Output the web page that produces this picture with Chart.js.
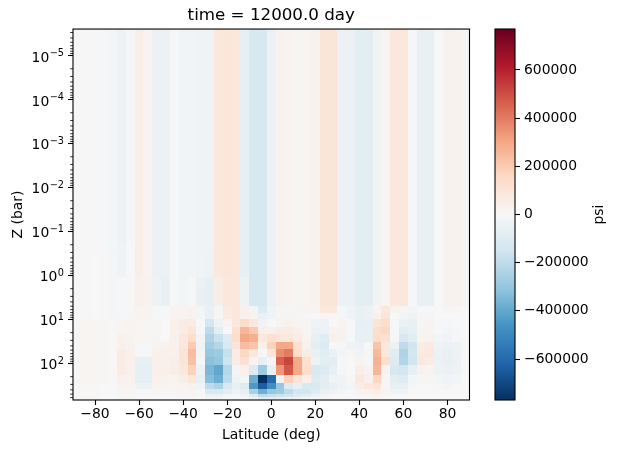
<!DOCTYPE html>
<html>
<head>
<meta charset="utf-8">
<script src="https://cdn.jsdelivr.net/npm/chart.js@4.4.0/dist/chart.umd.min.js"></script>
<style>
  html, body { margin: 0; padding: 0; background: #fff; }
  #wrap { position: relative; width: 617px; height: 453px; overflow: hidden; }
  #main { position: absolute; left: 0; top: 0; }
  #cbar { position: absolute; left: 470px; top: 0; }
</style>
</head>
<body>
<div id="wrap">
  <canvas id="main" width="617" height="453"></canvas>
  <canvas id="cbar" width="147" height="453"></canvas>
</div>
<script>
// cell centres (deg) and level edges (bar)
const latitudes = [-88,-84,-80,-76,-72,-68,-64,-60,-56,-52,-48,-44,-40,-36,-32,-28,-24,-20,-16,-12,-8,-4,0,4,8,12,16,20,24,28,32,36,40,44,48,52,56,60,64,68,72,76,80,84,88];
const pressureEdges = [2.5e-6, 0.18, 0.34, 0.61, 1.06, 1.95, 3.13, 4.93, 7.0, 9.9, 14.6, 21.4, 32, 47.5, 70, 108, 182, 282, 386, 493, 587, 680];

// psi in units of 1e4, one row per level band (top -> bottom)
const psiTop = [0.3,0.3,-0.8,-0.8,-2,-4,-1.5,5,2,-5,-5,-1,-2.5,-2.5,-3,-3,9,9.5,9,-7,-13,-13,-5,2.5,2,1,1.5,2.5,10,10,-5,-5,-8,-8,-3,1.5,9,9,-1,-6,-6,0,3,3,1];
const psiR2 = [0.3,0.3,-0.5,-0.8,-2,-3,-1,5,2,-5,-5,-1,-2.5,-2.5,-3,-3,9,9.5,9,-7,-13,-13,-5,2.5,2,1,1.5,2.5,10,10,-5,-5,-8,-8,-3,1.5,9,9,-1,-6,-6,0,3,3,1];
const psiR3 = [0.3,0.3,0,-0.5,-1.5,-3,-1,5,2,-5,-5,-1,-2.5,-2.5,-3,-4,9,9.5,9,-7,-13,-13,-5,2.5,2,1,1.5,2.5,10,10,-5,-5,-8,-8,-3,1.5,9,9,-1,-6,-6,0,3,3,1];
const psiR4 = [0.3,0.3,0,-0.5,-1.5,-3,-1,5,2,-5,-5,-1,-2.5,-2.5,-3,-4,9,9.5,9,-7,-13,-13,-5,2.5,2,1,1.5,2.5,10,10,-5,-5,-8,-8,-3,1.5,9,9,-1,-6,-6,0,3,3,1];
const psiR5 = [0.3,0.3,0,-0.5,-1.5,-1,0.5,4,3,-4,-6,-1,-2,-1,-5,-7,5,9,9,-4,-13,-13,-5,2.5,2,1,1.5,2.5,10,10,-5,-5,-8,-8,-3,1.5,9,9,-1,-6,-6,0,3,3,1];
const psiR6 = [0.3,0.3,0,-0.5,-1.5,-1,0.5,4,3,-4,-6,-1,-2,-1,-6,-7,5,9,9,-4,-13,-13,-5,2.5,2,1,1.5,2.5,10,10,-5,-5,-8,-8,-3,1.5,9,9,-1,-6,-6,0,3,3,1];
const psiR7 = [0.3,0.3,0,-0.5,-1.5,-1,0.5,4,3,-4,-6,-1,-2,-1,-6,-7,5,9,9,-4,-13,-13,-5,2.5,2,1,1.5,2.5,10,10,-5,-5,-8,-8,-3,1.5,9,9,-1,-6,-6,0,3,3,1];
const psiR8 = [0.3,0.3,0,-0.5,-1.5,-1,0.5,2,2,-1,-1,2,2,3,-2,-6,1,7,9,4,-2,-11,-3,1,1,1,2,2,9,9,-1,-3,-6,-5,2,8,3,1,-2,-1,-1,0,1,1,0];
const psiR9 = [0.3,0.3,0,-0.5,-1.5,-1,0.5,2,2,-1,-1,2,2,3,-2,-6,1,7,9,4,3,-6,-3,1,1,1,-1,0,1,1,-1,-3,-6,-5,4,10,0,-2,-3,1,1,0,0,0,0];
const psiR10 = [1,1.5,1.5,1,0.5,1.5,2,1.5,1,1,0,4,6,6,0,-14,-4,2,8,15,8,-3,0,2,3,2,1,-3,-4,0,2,-1,-7,-6,10,14,-1,-5,-6,1,2,-1,-1,0,0];
const psiR11 = [1,1.5,1.5,1,0.5,1.5,2,1.5,1,1,0,4,6,10,-1,-20,-8,0,12,26,20,4,4,6,6,4,1,-5,-5,3,3,-1,-6,-6,14,16,-1,-9,-7,1,2,-1,-2,-1,0];
const psiR12 = [1,1.5,1.5,1,0.5,4,3,1.5,1,1,0,4,9,14,-2,-24,-17,-10,14,30,28,8,12,10,8,6,2,-6,-9,4,3,-1,-6,-6,14,12,-1,-13,-8,2,3,-2,-3,-1,0];
const psiR13 = [1,1.5,1.5,1,0.5,4,3,-1,-1,2,3,4,9,20,-3,-27,-22,-12,10,24,22,4,18,30,30,12,3,-8,-11,0,-1,-4,-5,-1,22,9,-5,-20,-15,6,7,-3,-5,-4,-1];
const psiR14 = [1,1.5,1.5,1,0.5,6,4,-1,-1,4,4,4,10,24,-2,-30,-28,-18,6,16,8,-1,10,36,40,14,6,-6,-9,-5,-2,1,-3,1,25,8,-9,-24,-14,7,8,-5,-6,-4,-1];
const psiR15 = [1,1.5,1.5,1,0.5,6,4,-6,-6,4,4,5,10,23,-1,-32,-30,-16,6,12,2,-6,-2,46,52,30,12,-4,-8,-8,-1,0,2,-1,27,14,-10,-23,-15,8,6,-5,-6,-5,-1];
const psiR16 = [1,1.5,1.5,1,0.5,6,4,-7,-7,4,4,5,8,18,-4,-35,-40,-22,-2,4,-10,-28,-6,34,48,30,14,-12,-10,-6,-1,0,5,3,26,2,-13,-14,-7,3,2,-4,-5,-4,-1];
const psiR17 = [1,1.5,1.5,1,0.5,4,3,-7,-7,4,3,3,5,8,-6,-33,-38,-20,-4,-2,-38,-77,-60,-4,18,10,4,-10,-8,-3,-3,-1,8,4,16,1,-8,-10,-2,1,1,-2,-3,-2,0];
const psiR18 = [0.5,0.5,0.5,0,0,2,2,-4,-4,2,2,1,2,3,-3,-20,-24,-12,-6,-10,-44,-64,-48,-30,-10,-6,-12,-12,-8,-6,-4,-2,5,9,10,1,-6,-6,-1,0,0,-1,-2,-1,0];
const psiR19 = [0.5,0.5,0.5,0,0,1,1,-1,-1,1,0.5,1,1.5,2,-1,-12,-12,-8,-4,-6,-25,-38,-30,-28,-20,-14,-14,-10,-6,-4,-2,-1,2,4,5,2,-3,-3,0,0,0,0,0,0,0];
const psiR20 = [0.5,0.5,0.5,0,0,0.5,0.5,0,0,0.5,0,0.5,1,1,-1,-4,-4,-2,-1,-3,-10,-20,-18,-16,-14,-10,-8,-4,-2,-1,0,0,1,1,2,1,-1,-1,0,0,0,0,0,0,0];
const psiR21 = [0.5,0.5,0.5,0,0,0.5,0.5,0,0,0,0,0,0,0,0,-2,-2,-1,0,-1,-3,-8,-8,-6,-4,-3,-2,-1,-0.5,0,0,0,0,0,0.5,0,0,0,0,0,0,0,0,0,0];
const psiUnit = 1e4;

const xTicks = [-80, -60, -40, -20, 0, 20, 40, 60, 80];
const yTicks = [1e-5, 1e-4, 1e-3, 1e-2, 1e-1, 1e0, 1e1, 1e2];
const cbarTicks = [-600000, -400000, -200000, 0, 200000, 400000, 600000];
const vLimit = 770000;

const psiRows = [psiTop, psiR2, psiR3, psiR4, psiR5, psiR6, psiR7, psiR8, psiR9, psiR10, psiR11,
  psiR12, psiR13, psiR14, psiR15, psiR16, psiR17, psiR18, psiR19, psiR20, psiR21];

// RdBu_r
const rdbu = ['#053061','#2166ac','#4393c3','#92c5de','#d1e5f0','#f7f7f7','#fddbc7','#f4a582','#d6604d','#b2182b','#67001f'];
const rdbuRgb = rdbu.map(h => [1, 3, 5].map(i => parseInt(h.substr(i, 2), 16)));

function psiColor(v) {
  let t = (v + vLimit) / (2 * vLimit);
  t = Math.min(1, Math.max(0, t)) * (rdbuRgb.length - 1);
  const i = Math.min(rdbuRgb.length - 2, Math.floor(t));
  const f = t - i;
  const c = rdbuRgb[i].map((a, k) => Math.round(a + (rdbuRgb[i + 1][k] - a) * f));
  return `rgb(${c[0]},${c[1]},${c[2]})`;
}

const numLabel = v => (v < 0 ? '\u2212' : '') + Math.abs(v);

Chart.defaults.font.family = 'DejaVu Sans';
Chart.defaults.color = '#000';

const latEdges = latitudes.map((c, j) => {
  const prev = j > 0 ? latitudes[j - 1] : c - (latitudes[1] - latitudes[0]);
  return (prev + c) / 2;
});
latEdges.push(latitudes[latitudes.length - 1] + (latitudes[1] - latitudes[0]) / 2);

const meshPlugin = {
  id: 'mesh',
  beforeDatasetsDraw(chart) {
    const { ctx, chartArea: a, scales: { x, y } } = chart;
    ctx.save();
    ctx.beginPath();
    ctx.rect(a.left, a.top, a.right - a.left, a.bottom - a.top);
    ctx.clip();
    psiRows.forEach((row, i) => {
      const y0 = Math.round(y.getPixelForValue(pressureEdges[i]));
      const y1 = Math.round(y.getPixelForValue(pressureEdges[i + 1]));
      row.forEach((v, j) => {
        const x0 = Math.round(x.getPixelForValue(latEdges[j]));
        const x1 = Math.round(x.getPixelForValue(latEdges[j + 1]));
        ctx.fillStyle = psiColor(v * psiUnit);
        ctx.fillRect(x0, y0, x1 - x0, y1 - y0);
      });
    });
    ctx.restore();
  },
  afterDraw(chart) {
    const { ctx, chartArea: a, scales: { y } } = chart;
    ctx.save();
    ctx.strokeStyle = '#000';
    // minor log ticks
    ctx.lineWidth = 0.8;
    for (let d = -6; d <= 2; d++) {
      for (let k = 2; k <= 9; k++) {
        const v = k * Math.pow(10, d);
        if (v < y.min || v > y.max) continue;
        const py = y.getPixelForValue(v);
        ctx.beginPath();
        ctx.moveTo(a.left - 2.8, py);
        ctx.lineTo(a.left, py);
        ctx.stroke();
      }
    }
    ctx.lineWidth = 1.1;
    ctx.strokeRect(a.left, a.top, a.right - a.left, a.bottom - a.top);

    // power-of-ten labels with a raised exponent
    ctx.fillStyle = '#000';
    ctx.textBaseline = 'alphabetic';
    ctx.textAlign = 'left';
    const right = a.left - 5 - 4;
    y.ticks.forEach(t => {
      const py = y.getPixelForValue(t.value);
      const exp = numLabel(Math.round(Math.log10(t.value)));
      ctx.font = '13.9px "DejaVu Sans"';
      const wBase = ctx.measureText('10').width;
      ctx.font = '9.7px "DejaVu Sans"';
      const wExp = ctx.measureText(exp).width;
      const x0 = right - wBase - wExp - 0.5;
      ctx.font = '13.9px "DejaVu Sans"';
      ctx.fillText('10', x0, py + 6);
      ctx.font = '9.7px "DejaVu Sans"';
      ctx.fillText(exp, x0 + wBase + 0.5, py + 0.5);
    });
    ctx.restore();
  }
};

new Chart(document.getElementById('main'), {
  type: 'scatter',
  data: { datasets: [{ data: [] }] },
  options: {
    responsive: false,
    animation: false,
    layout: { padding: { left: 0, right: 147.5, top: 0, bottom: 0 } },
    plugins: {
      legend: { display: false },
      tooltip: { enabled: false },
      title: {
        display: true,
        text: 'time = 12000.0 day',
        fullSize: false,
        color: '#000',
        font: { size: 16.7, weight: 'normal' },
        padding: { top: 6, bottom: 3 }
      }
    },
    scales: {
      x: {
        type: 'linear',
        min: -90,
        max: 90,
        afterFit: s => { s.height = 53; },
        afterBuildTicks: s => { s.ticks = xTicks.map(v => ({ value: v })); },
        ticks: { callback: v => numLabel(v), font: { size: 13.9 }, padding: 1, maxRotation: 0, autoSkip: false },
        grid: { drawOnChartArea: false, tickLength: 5, tickColor: '#000', tickWidth: 1.1 },
        border: { display: false },
        title: { display: true, text: 'Latitude (deg)', font: { size: 13.9 }, padding: { top: 0, bottom: 9 } }
      },
      y: {
        type: 'logarithmic',
        reverse: true,
        min: 2.5e-6,
        max: 680,
        afterFit: s => { s.width = 73; },
        afterBuildTicks: s => { s.ticks = yTicks.map(v => ({ value: v })); },
        ticks: { display: false, autoSkip: false },
        grid: { drawOnChartArea: false, tickLength: 5, tickColor: '#000', tickWidth: 1.1 },
        border: { display: false },
        title: { display: true, text: 'Z (bar)', font: { size: 13.9 }, padding: { top: 10, bottom: 0 } }
      }
    }
  },
  plugins: [meshPlugin]
});

const cbarPlugin = {
  id: 'cbarFill',
  beforeDatasetsDraw(chart) {
    const { ctx, chartArea: a } = chart;
    const g = ctx.createLinearGradient(0, a.bottom, 0, a.top);
    rdbu.forEach((c, i) => g.addColorStop(i / (rdbu.length - 1), c));
    ctx.save();
    ctx.fillStyle = g;
    ctx.fillRect(a.left, a.top, a.right - a.left, a.bottom - a.top);
    ctx.restore();
  },
  afterDraw(chart) {
    const { ctx, chartArea: a } = chart;
    ctx.save();
    ctx.strokeStyle = '#000';
    ctx.lineWidth = 1.1;
    ctx.strokeRect(a.left, a.top, a.right - a.left, a.bottom - a.top);
    ctx.translate(599 - 470, (a.top + a.bottom) / 2);
    ctx.rotate(-Math.PI / 2);
    ctx.fillStyle = '#000';
    ctx.font = '13.9px "DejaVu Sans"';
    ctx.textAlign = 'center';
    ctx.textBaseline = 'middle';
    ctx.fillText('psi', 0, 0);
    ctx.restore();
  }
};

new Chart(document.getElementById('cbar'), {
  type: 'scatter',
  data: { datasets: [{ data: [] }] },
  options: {
    responsive: false,
    animation: false,
    layout: { padding: { left: 25, right: 0, top: 29, bottom: 53 } },
    plugins: { legend: { display: false }, tooltip: { enabled: false }, title: { display: false } },
    scales: {
      x: { type: 'linear', display: false, min: 0, max: 1 },
      y: {
        type: 'linear',
        position: 'right',
        min: -vLimit,
        max: vLimit,
        afterFit: s => { s.width = 102; },
        afterBuildTicks: s => { s.ticks = cbarTicks.map(v => ({ value: v })); },
        ticks: { callback: v => numLabel(v), font: { size: 13.9 }, padding: 4, autoSkip: false },
        grid: { drawOnChartArea: false, tickLength: 5, tickColor: '#000', tickWidth: 1.1 },
        border: { display: false }
      }
    }
  },
  plugins: [cbarPlugin]
});
</script>
</body>
</html>
